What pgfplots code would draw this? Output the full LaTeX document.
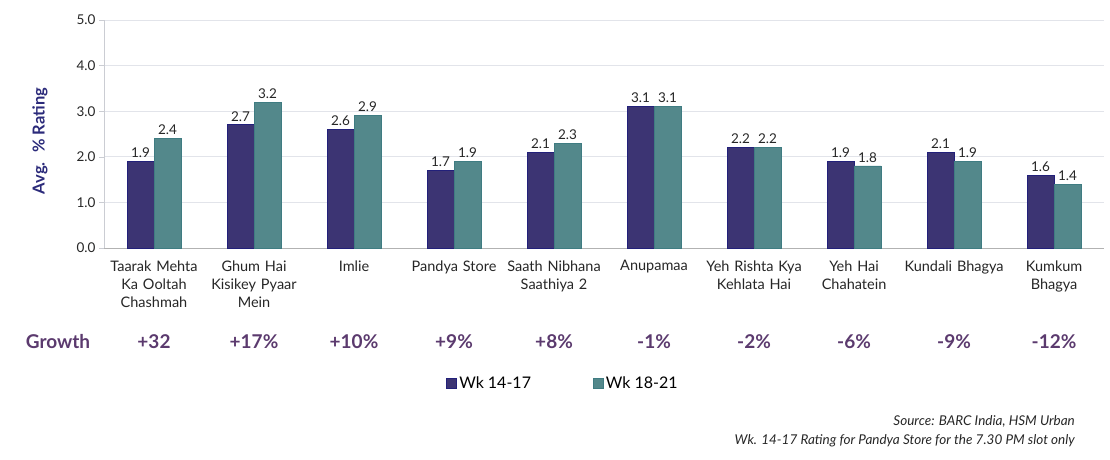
\documentclass[border=0pt]{standalone}
\usepackage{fontspec}
\setmainfont{Lato}
\usepackage{pgfplots}
\pgfplotsset{compat=1.18}
\definecolor{navybar}{HTML}{3C3473}
\definecolor{navyedge}{HTML}{22207A}
\definecolor{tealbar}{HTML}{53888B}
\definecolor{tealedge}{HTML}{3F7C82}
\definecolor{growthc}{HTML}{5B3A6E}
\definecolor{ylabc}{HTML}{2B2A7A}
\definecolor{gridc}{HTML}{E2E4EA}
\definecolor{txtc}{HTML}{262626}
\begin{document}
\begin{tikzpicture}[x=1pt,y=1pt]
\useasboundingbox (0,0) rectangle (1110,460);
\begin{axis}[
  at={(104pt,212pt)}, anchor=south west,
  scale only axis, width=1000pt, height=228pt,
  xmin=-0.5, xmax=9.5, ymin=0, ymax=5,
  ybar=0pt, bar width=0.27,
  axis x line*=bottom, axis y line*=left,
  x axis line style={draw=gray!60, -},
  y axis line style={draw=gridc!90!black, -},
  ytick={0,1,2,3,4,5},
  ymajorgrids, grid style={draw=gridc, line width=0.8pt},
  tick align=outside, major tick length=5pt,
  ytick style={draw=gridc!90!black},
  xtick={0,...,9}, xtick style={draw=none},
  xticklabels={{Taarak Mehta\\Ka Ooltah\\Chashmah},{Ghum Hai\\Kisikey Pyaar\\Mein},{Imlie},{Pandya Store},{Saath Nibhana\\Saathiya 2},{Anupamaa},{Yeh Rishta Kya\\Kehlata Hai},{Yeh Hai\\Chahatein},{Kundali Bhagya},{Kumkum\\Bhagya}},
  xticklabel style={font=\fontsize{14.5}{18}\selectfont, text=txtc, align=center, text width=130pt, yshift=-4pt},
  yticklabel style={font=\fontsize{13.5}{15}\selectfont, text=txtc, /pgf/number format/.cd, fixed, fixed zerofill, precision=1, assume math mode=true},
  every axis y label/.style={at={(rel axis cs:-0.064,0.469)}, rotate=90, anchor=center},
  ylabel={\fontsize{16.5}{20}\selectfont\bfseries\color{ylabc}Avg.~ \% Rating},
  nodes near coords,
  every node near coord/.append style={font=\fontsize{13.5}{15}\selectfont, text=txtc, /pgf/number format/.cd, fixed, fixed zerofill, precision=1, assume math mode=true},
  clip=false,
  legend columns=2,
  legend style={at={(rel axis cs:0.459,-0.592)}, anchor=center, draw=none, font=\fontsize{16}{18}\selectfont, /tikz/every even column/.append style={column sep=60pt}},
  legend image code/.code={\draw[#1] (0pt,-5pt) rectangle (10pt,5pt);},
]
\addplot[fill=navybar, draw=navyedge, line width=0.8pt] coordinates {(0,1.9) (1,2.7) (2,2.6) (3,1.7) (4,2.1) (5,3.1) (6,2.2) (7,1.9) (8,2.1) (9,1.6)};
\addplot[fill=tealbar, draw=tealedge, line width=0.8pt] coordinates {(0,2.4) (1,3.2) (2,2.9) (3,1.9) (4,2.3) (5,3.1) (6,2.2) (7,1.8) (8,1.9) (9,1.4)};
\legend{Wk 14-17, Wk 18-21}
\begin{scope}[every node/.style={font=\fontsize{19}{22}\selectfont\bfseries, text=growthc, anchor=center}]
\node at (axis cs:-0.96,-2.06) {Growth};
\node at (axis cs:0,-2.06) {+32};
\node at (axis cs:1,-2.06) {+17\%};
\node at (axis cs:2,-2.06) {+10\%};
\node at (axis cs:3,-2.06) {+9\%};
\node at (axis cs:4,-2.06) {+8\%};
\node at (axis cs:5,-2.06) {-1\%};
\node at (axis cs:6,-2.06) {-2\%};
\node at (axis cs:7,-2.06) {-6\%};
\node at (axis cs:8,-2.06) {-9\%};
\node at (axis cs:9,-2.06) {-12\%};
\end{scope}
\end{axis}
\node[anchor=east, font=\fontsize{13.5}{15}\selectfont\itshape, text=txtc, inner sep=0pt] at (1075,39) {Source: BARC India, HSM Urban};
\node[anchor=east, font=\fontsize{13.5}{15}\selectfont\itshape, text=txtc, inner sep=0pt] at (1075,19) {Wk. 14-17 Rating for Pandya Store for the 7.30 PM slot only};
\end{tikzpicture}
\end{document}
